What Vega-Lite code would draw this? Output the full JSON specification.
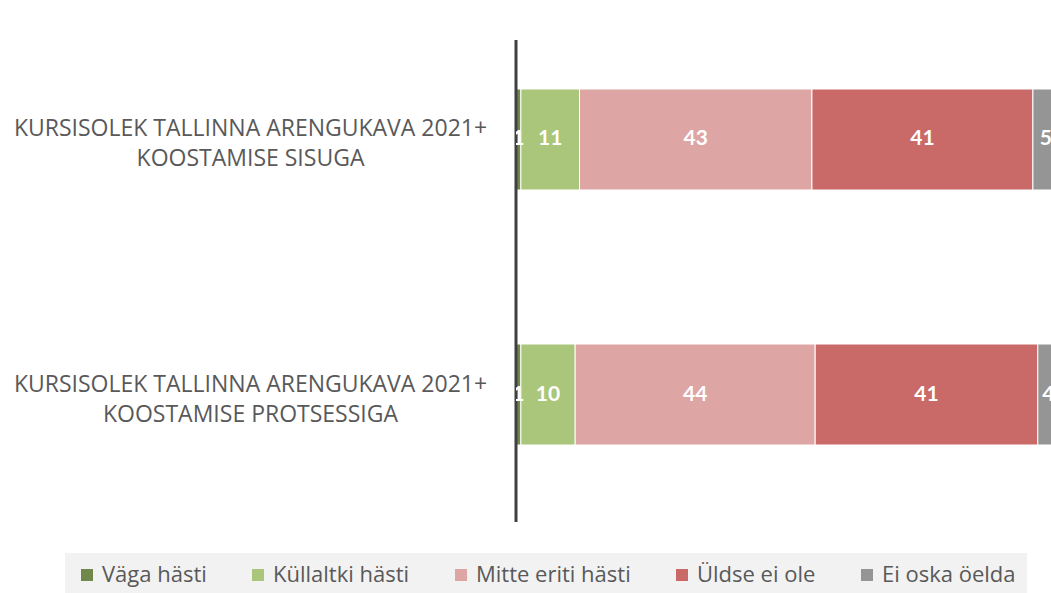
{
  "$schema": "https://vega.github.io/schema/vega-lite/v6.json",
  "width": 535,
  "height": 482,
  "autosize": {"type": "none"},
  "padding": {"left": 516, "top": 40, "right": 0, "bottom": 71},
  "background": "white",
  "config": {"view": {"stroke": null}, "font": "Open Sans"},
  "data": {
    "values": [
      {"item": "KURSISOLEK TALLINNA ARENGUKAVA 2021+|KOOSTAMISE SISUGA", "cat": "Väga hästi", "ord": 1, "value": 0.9},
      {"item": "KURSISOLEK TALLINNA ARENGUKAVA 2021+|KOOSTAMISE SISUGA", "cat": "Küllaltki hästi", "ord": 2, "value": 10.8},
      {"item": "KURSISOLEK TALLINNA ARENGUKAVA 2021+|KOOSTAMISE SISUGA", "cat": "Mitte eriti hästi", "ord": 3, "value": 42.8},
      {"item": "KURSISOLEK TALLINNA ARENGUKAVA 2021+|KOOSTAMISE SISUGA", "cat": "Üldse ei ole", "ord": 4, "value": 40.7},
      {"item": "KURSISOLEK TALLINNA ARENGUKAVA 2021+|KOOSTAMISE SISUGA", "cat": "Ei oska öelda", "ord": 5, "value": 4.8},
      {"item": "KURSISOLEK TALLINNA ARENGUKAVA 2021+|KOOSTAMISE PROTSESSIGA", "cat": "Väga hästi", "ord": 1, "value": 0.9},
      {"item": "KURSISOLEK TALLINNA ARENGUKAVA 2021+|KOOSTAMISE PROTSESSIGA", "cat": "Küllaltki hästi", "ord": 2, "value": 10.0},
      {"item": "KURSISOLEK TALLINNA ARENGUKAVA 2021+|KOOSTAMISE PROTSESSIGA", "cat": "Mitte eriti hästi", "ord": 3, "value": 44.2},
      {"item": "KURSISOLEK TALLINNA ARENGUKAVA 2021+|KOOSTAMISE PROTSESSIGA", "cat": "Üldse ei ole", "ord": 4, "value": 41.0},
      {"item": "KURSISOLEK TALLINNA ARENGUKAVA 2021+|KOOSTAMISE PROTSESSIGA", "cat": "Ei oska öelda", "ord": 5, "value": 3.9}
    ]
  },
  "layer": [
    {
      "mark": {"type": "bar", "clip": true, "stroke": "white", "strokeWidth": 1},
      "encoding": {
        "y": {
          "field": "item", "type": "nominal", "sort": null,
          "scale": {"range": [-27.5, 481.5], "paddingInner": 0.604, "paddingOuter": 0.3},
          "axis": {
            "title": null, "domain": false, "ticks": false, "grid": false,
            "labelAlign": "center", "labelPadding": 266, "labelFontSize": 23,
            "labelColor": "#595959", "labelLimit": 0, "labelBaseline": "middle",
            "labelLineHeight": 30, "labelOffset": -10, "labelExpr": "split(datum.label, '|')"
          }
        },
        "x": {
          "field": "value", "type": "quantitative", "stack": "zero",
          "scale": {"domain": [0, 98.53], "nice": false, "zero": true},
          "axis": null
        },
        "color": {
          "field": "cat", "type": "nominal",
          "sort": ["Väga hästi", "Küllaltki hästi", "Mitte eriti hästi", "Üldse ei ole", "Ei oska öelda"],
          "scale": {
            "domain": ["Väga hästi", "Küllaltki hästi", "Mitte eriti hästi", "Üldse ei ole", "Ei oska öelda"],
            "range": ["#70884A", "#A9C67A", "#DEA5A5", "#C96A69", "#959595"]
          },
          "legend": {
            "orient": "none", "legendX": -451, "legendY": 513,
            "direction": "horizontal", "columns": 5, "title": null,
            "fillColor": "#f2f2f2", "padding": 11,
            "symbolType": "square", "symbolSize": 144, "symbolStrokeWidth": 0,
            "labelFontSize": 22, "labelColor": "#595959", "labelOffset": 4,
            "labelLimit": 300, "columnPadding": 40
          }
        },
        "order": {"field": "ord"}
      }
    },
    {
      "data": {"values": [{}]},
      "mark": {"type": "rule", "color": "#404040", "strokeWidth": 3},
      "encoding": {"x": {"datum": 0}}
    },
    {
      "mark": {"type": "text", "clip": true, "color": "white", "fontWeight": "bold", "fontSize": 21, "font": "Lato", "baseline": "middle", "align": "center"},
      "encoding": {
        "y": {"field": "item", "type": "nominal", "sort": null},
        "x": {"field": "value", "type": "quantitative", "stack": "zero", "bandPosition": 0.5},
        "detail": {"field": "cat"},
        "order": {"field": "ord"},
        "text": {"field": "value", "type": "quantitative", "format": ".0f"}
      }
    }
  ]
}
